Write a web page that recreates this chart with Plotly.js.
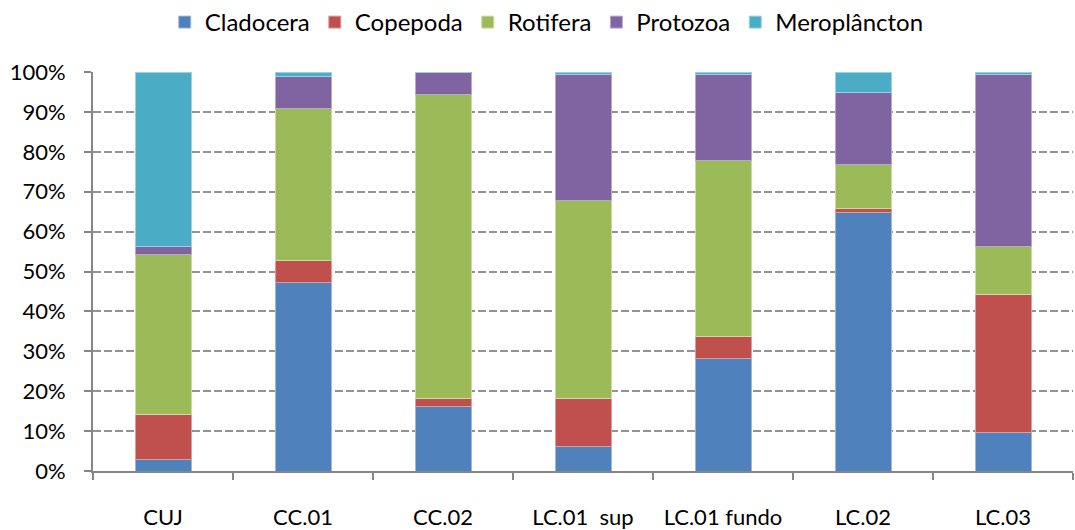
<!DOCTYPE html>
<html>
<head>
<meta charset="utf-8">
<script src="https://cdn.plot.ly/plotly-3.0.1.min.js"></script>
<style>
  html, body { margin: 0; padding: 0; background: #fff; }
  #vis { width: 1075px; height: 530px; }
</style>
</head>
<body>
<div id="vis"></div>
<script>
// sampling points
const sites = ['CUJ', 'CC.01', 'CC.02', 'LC.01  sup', 'LC.01 fundo', 'LC.02', 'LC.03'];

// relative abundance (%) per group
const cladocera    = [2.85, 47.25, 16.25, 6.25, 28.25, 64.85, 9.75];
const copepoda     = [11.4, 5.5, 2.0, 11.95, 5.5, 1.0, 34.6];
const rotifera     = [40.0, 38.0, 76.0, 49.55, 44.0, 10.95, 11.9];
const protozoa     = [2.0, 8.1, 5.75, 31.5, 21.5, 17.95, 43.0];
const meroplancton = [43.75, 1.15, 0.0, 0.75, 0.75, 5.25, 0.75];

const yTicks = [0, 10, 20, 30, 40, 50, 60, 70, 80, 90, 100];

const series = [
  { name: 'Cladocera',    values: cladocera,    color: '#4F81BD', edge: '#9db7dc' },
  { name: 'Copepoda',     values: copepoda,     color: '#C0504D', edge: '#de9c9a' },
  { name: 'Rotifera',     values: rotifera,     color: '#9BBB59', edge: '#c9dca3' },
  { name: 'Protozoa',     values: protozoa,     color: '#8064A2', edge: '#b8a8cf' },
  { name: 'Meroplâncton', values: meroplancton, color: '#4BACC6', edge: '#9ad2e2' },
];

const traces = series.map(s => ({
  type: 'bar',
  name: s.name,
  x: sites,
  y: s.values,
  marker: { color: s.color, line: { color: s.edge, width: 1 } },
  hovertemplate: '%{x}<br>' + s.name + ': %{y:.1f}%<extra></extra>',
}));

const font = { family: 'Lato, "Open Sans", sans-serif', size: 22, color: '#000' };

const layout = {
  width: 1075,
  height: 530,
  barmode: 'stack',
  bargap: 0.6,
  font: font,
  paper_bgcolor: '#fff',
  plot_bgcolor: '#fff',
  margin: { l: 93, r: 2, t: 72, b: 59 },
  showlegend: true,
  legend: {
    orientation: 'h',
    x: 0.463, xanchor: 'center',
    yref: 'container', y: 1.0, yanchor: 'top',
    font: { family: font.family, size: 24, color: '#000' },
    traceorder: 'normal',
    itemwidth: 30,
  },
  xaxis: {
    type: 'category',
    range: [-0.5, 6.5],
    showline: true,
    linecolor: '#868686',
    linewidth: 2,
    ticks: 'outside',
    tickson: 'boundaries',
    ticklen: 7,
    tickcolor: '#868686',
    tickwidth: 2,
    ticklabelstandoff: 26,
    showgrid: false,
    zeroline: false,
    fixedrange: true,
  },
  yaxis: {
    range: [0, 100],
    tickvals: yTicks,
    ticktext: yTicks.map(v => v + '%'),
    showline: true,
    linecolor: '#868686',
    linewidth: 2,
    ticks: 'outside',
    ticklen: 7,
    tickcolor: '#868686',
    tickwidth: 2,
    ticklabelstandoff: 14,
    showgrid: true,
    gridcolor: '#939393',
    gridwidth: 2,
    griddash: '8px,3px',
    zeroline: false,
    fixedrange: true,
  },
};

Plotly.newPlot('vis', traces, layout, { displayModeBar: false, staticPlot: true });
</script>
</body>
</html>
